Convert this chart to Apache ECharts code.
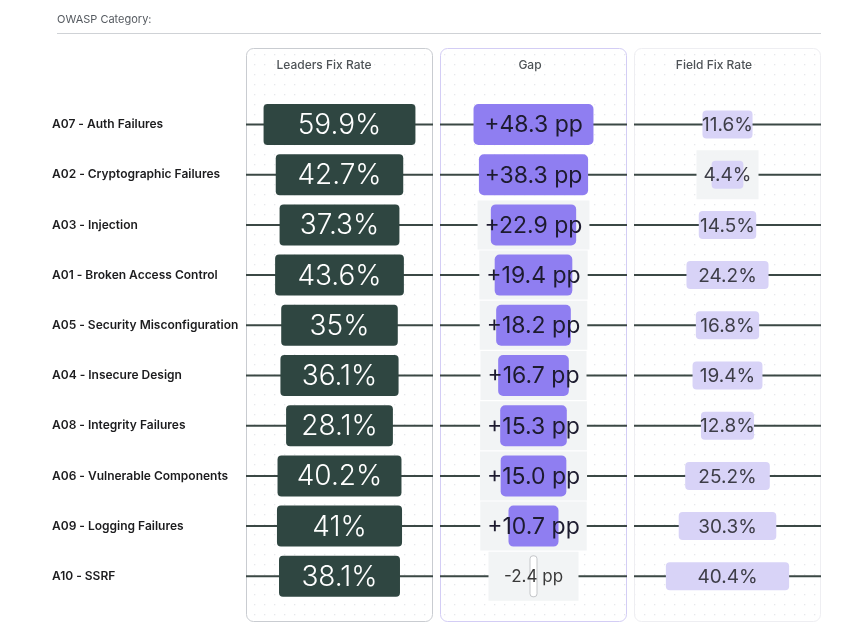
<!DOCTYPE html>
<html lang="en">
<head>
<meta charset="UTF-8">
<title>OWASP fix rates</title>
<style>
  html, body { margin: 0; padding: 0; background: #fff; }
  #main { width: 867px; height: 640px; }
</style>
</head>
<body>
<div id="main"></div>
<script src="https://cdn.jsdelivr.net/npm/echarts@6/dist/echarts.min.js"></script>
<script>
  // rows, top to bottom
  var categories = [
    'A07 - Auth Failures',
    'A02 - Cryptographic Failures',
    'A03 - Injection',
    'A01 - Broken Access Control',
    'A05 - Security Misconfiguration',
    'A04 - Insecure Design',
    'A08 - Integrity Failures',
    'A06 - Vulnerable Components',
    'A09 - Logging Failures',
    'A10 - SSRF'
  ];
  var leadersRate = [59.9, 42.7, 37.3, 43.6, 35, 36.1, 28.1, 40.2, 41, 38.1];
  var gapPp = [48.3, 38.3, 22.9, 19.4, 18.2, 16.7, 15.3, 15.0, 10.7, -2.4];
  var fieldRate = [11.6, 4.4, 14.5, 24.2, 16.8, 19.4, 12.8, 25.2, 30.3, 40.4];
  var panelTitles = ['Leaders Fix Rate', 'Gap', 'Field Fix Rate'];
  var headerTitle = 'OWASP Category:';

  var FONT = 'Inter, "Noto Sans", sans-serif';

  // panel look; the box width comes from each panel's own (hidden) x axis
  var panels = [
    { left: 246, titleX: 324, data: leadersRate, fmt: function (v) { return v + '%'; },
      axis: { type: 'value', min: 0, max: 132 }, pad: 67,
      box: '#2f4641', text: '#ffffff', size: 28, weight: 300, boxH: 41, r: 4, border: '#c9ccd1', bgMin: 0 },
    { left: 440, titleX: 530, data: gapPp, fmt: function (v) { return (v > 0 ? '+' : '') + v.toFixed(1) + ' pp'; },
      axis: { type: 'log', min: 3.64, max: 205 }, pad: 0,
      box: '#8f7ef1', text: '#1d1b2f', size: 23, weight: 400, boxH: 41, r: 5, border: '#d3cdf5', bgMin: 90 },
    { left: 634, titleX: 714, data: fieldRate, fmt: function (v) { return v + '%'; },
      axis: { type: 'value', min: 0, max: 73.6 }, pad: 20.6,
      box: '#d8d3f7', text: '#3d3d47', size: 19, weight: 400, boxH: 28, r: 4, border: '#eeeef2', bgMin: 0 }
  ];
  var PANEL_W = 187;

  var measureCtx = document.createElement('canvas').getContext('2d');
  function textWidth(str, weight, size) {
    measureCtx.font = weight + ' ' + size + 'px ' + FONT;
    return measureCtx.measureText(str).width;
  }

  // faint dotted background for the panels
  var dotCanvas = document.createElement('canvas');
  dotCanvas.width = 10;
  dotCanvas.height = 10;
  var dctx = dotCanvas.getContext('2d');
  dctx.fillStyle = '#e6e8eb';
  dctx.fillRect(4, 4, 1.3, 1.3);

  function renderCell(p) {
    return function (params, api) {
      var cs = params.coordSys;
      var v = api.value(0);
      var i = api.value(1);
      var cx = cs.x + cs.width / 2;
      var cy = api.coord([p.axis.min, i])[1];
      var neg = v <= 0;
      var w = neg ? 7 : api.coord([v, i])[0] - cs.x + p.pad;
      var label = p.fmt(v);
      var size = neg ? 17 : p.size;
      var tw = textWidth(label, p.weight, size);
      var children = [{
        type: 'line',
        shape: { x1: cs.x, y1: cy, x2: cs.x + cs.width, y2: cy },
        style: { stroke: '#3b4845', lineWidth: 2 }
      }];
      // text spills out of its box: put a pale plate behind it
      if (tw > w + 3) {
        var bw = Math.max(tw + 14, p.bgMin);
        children.push({
          type: 'rect',
          shape: { x: cx - bw / 2, y: cy - 24.5, width: bw, height: 49 },
          style: { fill: '#f2f4f5' }
        });
      }
      children.push({
        type: 'rect',
        shape: { x: cx - w / 2, y: cy - p.boxH / 2, width: w, height: p.boxH, r: neg ? 3 : p.r },
        style: neg ? { fill: '#ffffff', stroke: '#c4c6c9', lineWidth: 1 } : { fill: p.box }
      });
      children.push({
        type: 'text',
        style: {
          text: label, x: cx, y: cy + 1, align: 'center', verticalAlign: 'middle',
          fontFamily: FONT, fontSize: size, fontWeight: p.weight,
          fill: neg ? '#3a3a3a' : p.text
        }
      });
      return { type: 'group', children: children };
    };
  }

  var grids = [], xAxes = [], yAxes = [], series = [], graphics = [];

  graphics.push({
    type: 'text', left: 57, top: 14,
    style: { text: headerTitle, fontFamily: FONT, fontSize: 11, fill: '#555a60' }
  });
  graphics.push({
    type: 'line', shape: { x1: 57, y1: 33.5, x2: 821, y2: 33.5 },
    style: { stroke: '#cfd2d6', lineWidth: 1 }
  });

  panels.forEach(function (p, k) {
    graphics.push({
      type: 'rect', z: -10,
      shape: { x: p.left + 0.5, y: 48.5, width: PANEL_W - 1, height: 573, r: 7 },
      style: { fill: { image: dotCanvas, repeat: 'repeat' }, stroke: p.border, lineWidth: 1 }
    });
    graphics.push({
      type: 'text', z: -5, x: p.titleX, y: 65.5,
      style: {
        text: panelTitles[k], align: 'center', verticalAlign: 'middle',
        fontFamily: FONT, fontSize: 12, fontWeight: 500, fill: '#4e5357'
      }
    });

    grids.push({ left: p.left, width: PANEL_W, top: 99.4, bottom: 38.6 });
    xAxes.push(Object.assign({ gridIndex: k, show: false }, p.axis));
    yAxes.push({
      type: 'category', gridIndex: k, inverse: true, data: categories,
      axisLine: { show: false }, axisTick: { show: false }, splitLine: { show: false },
      axisLabel: {
        show: k === 0, align: 'left', margin: 194,
        fontFamily: FONT, fontSize: 12, fontWeight: 600, color: '#1c1c1e'
      }
    });
    series.push({
      type: 'custom', xAxisIndex: k, yAxisIndex: k,
      renderItem: renderCell(p),
      data: p.data.map(function (v, i) { return [v, i]; }),
      animation: false
    });
  });

  var myChart = echarts.init(document.getElementById('main'));
  myChart.setOption({
    backgroundColor: '#ffffff',
    animation: false,
    graphic: graphics,
    grid: grids,
    xAxis: xAxes,
    yAxis: yAxes,
    series: series
  });
</script>
</body>
</html>
